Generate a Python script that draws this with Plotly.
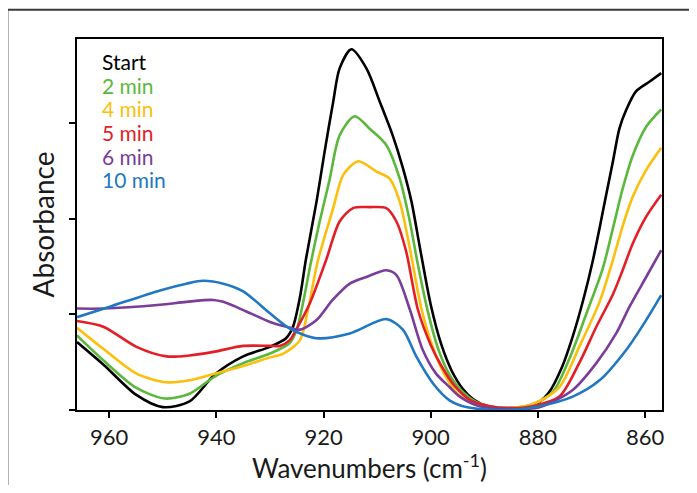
import plotly.graph_objects as go

# ---- data ----
series_names = ["Start", "2 min", "4 min", "5 min", "6 min", "10 min"]
series_colors = ["#000000", "#5cb83c", "#fbbf0c", "#e41e26", "#7a3d9a", "#1f78c1"]

wn_start = [966, 961, 955, 950, 945, 940.3, 935, 930, 927, 925.7, 924.4, 923.3, 921.3, 919.8,
            918.2, 917, 914.8, 912, 909.5, 907.1, 905.2, 903.6, 902, 900, 898, 896, 894,
            892, 889, 886, 881, 878, 875.5, 873.5, 871.5, 869.8, 868.5, 867.3, 866, 864.8,
            863.5, 861.7, 859.2, 857]
abs_start = [0.71, 0.47, 0.16, 0.03, 0.09, 0.37, 0.56, 0.66, 0.75, 0.87, 1.18, 1.57, 2.18, 2.70,
             3.22, 3.57, 3.77, 3.57, 3.22, 2.87, 2.53, 2.18, 1.69, 1.10, 0.68, 0.40, 0.22,
             0.11, 0.03, 0.02, 0.04, 0.18, 0.45, 0.77, 1.16, 1.55, 1.90, 2.24, 2.60, 2.94,
             3.14, 3.33, 3.43, 3.52]

wn_2min = [966, 961.1, 954.9, 949.6, 945, 940.3, 935, 930, 926.3, 925, 923.9, 922.4, 920.8,
           918.9, 917, 914.2, 911.4, 908.3, 905.8, 903.9, 902.5, 900.5, 898.5, 896.5, 894,
           891, 888, 885, 881, 877.2, 874.1, 871, 867.9, 866, 864.2, 862.3, 859.8, 857]
abs_2min = [0.78, 0.52, 0.23, 0.12, 0.17, 0.35, 0.49, 0.59, 0.70, 0.84, 1.10, 1.53, 1.95,
            2.40, 2.87, 3.07, 2.94, 2.77, 2.42, 1.97, 1.55, 1.02, 0.62, 0.37, 0.19,
            0.07, 0.03, 0.02, 0.06, 0.19, 0.54, 1.00, 1.48, 1.90, 2.31, 2.66, 2.96, 3.14]

wn_4min = [966, 961.1, 954.9, 949.3, 945, 940.3, 935, 930, 927.5, 924.4, 922.9, 921.1, 918.2,
           916.3, 913.5, 910.1, 907.7, 905.8, 903.9, 901.7, 899.5, 897.5, 895, 891.5, 887,
           881, 876, 872.3, 868.5, 866, 864.2, 862.3, 859.8, 857]
abs_4min = [0.86, 0.64, 0.38, 0.29, 0.31, 0.38, 0.46, 0.55, 0.59, 0.73, 1.05, 1.55, 2.11,
            2.46, 2.60, 2.49, 2.42, 2.18, 1.69, 1.05, 0.64, 0.38, 0.17, 0.06, 0.02,
            0.06, 0.24, 0.66, 1.13, 1.57, 1.92, 2.23, 2.51, 2.74]

wn_5min = [966, 961.1, 954.9, 949.3, 945, 940.3, 935, 930, 928.2, 926.3, 925.1, 922.6, 919.5,
           917, 914.5, 911.4, 908.3, 906.4, 904.6, 902.4, 900, 898, 895.5, 892.5, 889, 885.3,
           881, 876, 872.3, 869.1, 866, 864.2, 862.3, 859.8, 857]
abs_5min = [0.93, 0.87, 0.66, 0.56, 0.57, 0.61, 0.67, 0.67, 0.67, 0.73, 0.84, 1.11, 1.57,
            1.97, 2.11, 2.12, 2.11, 1.97, 1.66, 1.05, 0.68, 0.46, 0.25, 0.10, 0.04, 0.02,
            0.04, 0.14, 0.49, 0.87, 1.21, 1.46, 1.74, 2.02, 2.25]

wn_6min = [966, 961.1, 950.5, 945.6, 940.6, 938.7, 934.4, 930, 926.9, 924.4, 921.3, 918.3, 915.1,
           912, 908.3, 906.4, 903.9, 901.5, 899, 896.5, 894.6, 890.9, 885.3, 879.7, 873.5,
           869.1, 865.4, 862.9, 859.8, 857]
abs_6min = [1.06, 1.06, 1.10, 1.13, 1.15, 1.13, 1.03, 0.92, 0.87, 0.84, 0.94, 1.15, 1.32,
            1.39, 1.46, 1.41, 1.05, 0.63, 0.38, 0.24, 0.14, 0.04, 0.01, 0.03, 0.21,
            0.49, 0.80, 1.08, 1.39, 1.67]

wn_10min = [966, 959.9, 950.5, 945.6, 942.5, 938.7, 935, 930, 926.3, 921.3, 915.1, 908.3, 905.2,
            902.7, 899.6, 896.5, 894.6, 890.9, 885.3, 879.7, 873.5, 868.5, 863.5, 859.8, 857]
abs_10min = [0.97, 1.08, 1.25, 1.32, 1.35, 1.32, 1.24, 1.01, 0.85, 0.75, 0.80, 0.95, 0.84,
             0.56, 0.28, 0.10, 0.05, 0.01, 0.0, 0.04, 0.14, 0.31, 0.63, 0.94, 1.20]

x_tick_vals = [960, 940, 920, 900, 880, 860]
y_tick_vals = [0, 1, 2, 3]

# ---- figure ----
wn_all = [wn_start, wn_2min, wn_4min, wn_5min, wn_6min, wn_10min]
abs_all = [abs_start, abs_2min, abs_4min, abs_5min, abs_6min, abs_10min]

FONT = "Lato"
fig = go.Figure()
for name, color, xs, ys in zip(series_names, series_colors, wn_all, abs_all):
    fig.add_trace(go.Scatter(x=xs, y=ys, mode="lines", name=name,
                             line=dict(color=color, width=2.6, shape="spline", smoothing=0.8),
                             showlegend=False))

# legend as coloured text
for i, (name, color) in enumerate(zip(series_names, series_colors)):
    fig.add_annotation(xref="paper", yref="paper", x=0.039, y=0.939 - i * 0.0636,
                       xanchor="left", yanchor="middle", showarrow=False, text=name,
                       font=dict(family=FONT, size=21, color=color))

# outer grey frame (partly outside the picture)
fig.add_shape(type="rect", xref="paper", yref="paper", x0=-0.119, y0=-0.25, x1=1.1, y1=1.079,
              line=dict(color="#3a3a3a", width=2), layer="below")

# the page body has an 8px margin, so the figure is sized to fit the window
fig.update_layout(
    width=689, height=477,
    margin=dict(l=69, r=34.5, t=31, b=75),
    paper_bgcolor="white", plot_bgcolor="white",
    font=dict(family=FONT, color="#1a1a1a"),
)
fig.update_xaxes(range=[966, 856.85], tickvals=x_tick_vals, ticks="outside", ticklen=6,
                 tickwidth=1.5, tickcolor="black", showline=True, linecolor="black",
                 linewidth=2.2, mirror=True, showgrid=False, zeroline=False,
                 tickfont=dict(family=FONT, size=22, color="#1a1a1a"),
                 title=dict(text="Wavenumbers (cm<sup>-1</sup>)", standoff=4,
                            font=dict(family=FONT, size=26, color="#1a1a1a")))
fig.update_yaxes(range=[0, 3.877], tickvals=y_tick_vals, showticklabels=False, ticks="outside",
                 ticklen=6, tickwidth=1.5, tickcolor="black", showline=True, linecolor="black",
                 linewidth=2.2, mirror=True, showgrid=False, zeroline=False,
                 title=dict(text="Absorbance", standoff=6,
                            font=dict(family=FONT, size=28, color="#1a1a1a")))

fig.write_html("out.html")
